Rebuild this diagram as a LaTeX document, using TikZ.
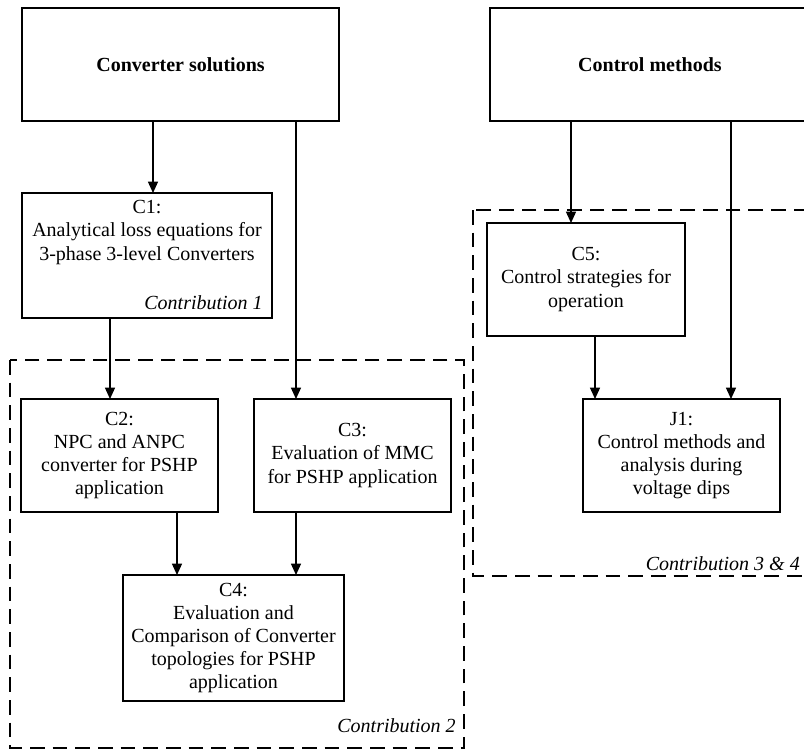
\documentclass[tikz,border=0pt]{standalone}
\usepackage{fontspec}
\setmainfont{Liberation Serif}
\usetikzlibrary{arrows.meta}

\begin{document}
\begin{tikzpicture}[x=0.75pt, y=-0.75pt, >={Triangle[length=8.5pt,width=7.5pt]},
	box/.style={draw, line width=0.8pt, inner sep=0pt, outer sep=0pt, align=center, font=\fontsize{15}{17.3}\selectfont},
	contrib/.style={font=\fontsize{15}{17.3}\selectfont\itshape, inner sep=0pt},
	grpbox/.style={line width=1.5pt, dash pattern=on 11pt off 6pt}]
	\useasboundingbox (0,0) rectangle (804,749);
	\clip (0,0) rectangle (804,749);

	% top level
	\node[box, minimum width=237.75pt, minimum height=84.75pt] (conv) at (180.5,64.5) {\textbf{Converter solutions}};
	\node[box, minimum width=240pt, minimum height=84.75pt] (ctrl) at (650,64.5) {\textbf{Control methods}};

	% contribution 1
	\node[box, minimum width=187.5pt, minimum height=93.75pt] (c1) at (147,255.5) {};
	\node[box, draw=none] (c1text) at (147,232.5) {C1:\\Analytical loss equations for\\3-phase 3-level Converters};
	\node[contrib, anchor=base east] (con1) at (263,309) {Contribution 1};

	% contribution 2
	\draw[grpbox] (10,360) rectangle (464,748);
	\node[box, minimum width=147.75pt, minimum height=84.75pt] (c2) at (119.5,455.5) {C2:\\NPC and ANPC\\converter for PSHP\\application};
	\node[box, minimum width=147.75pt, minimum height=84.75pt] (c3) at (352.5,455.5) {C3:\\Evaluation of MMC\\for PSHP application};
	\node[box, minimum width=165.75pt, minimum height=94.5pt] (c4) at (233.5,638) {C4:\\Evaluation and\\Comparison of Converter\\topologies for PSHP\\application};
	\node[contrib, anchor=base east] (con2) at (456,732) {Contribution 2};

	% contribution 3 & 4
	\draw[grpbox] (473,210) rectangle (830,576);
	\node[box, minimum width=148.5pt, minimum height=84.75pt] (c5) at (586,279.5) {C5:\\Control strategies for\\operation};
	\node[box, minimum width=147.75pt, minimum height=84.75pt] (j1) at (681.5,455.5) {J1:\\Control methods and\\analysis during\\voltage dips};
	\node[contrib, anchor=base east] (con34) at (800,570) {Contribution 3 \& 4};

	% arrows
	\foreach \a/\b/\x in {conv/c1/153, conv/c3/296, c1/c2/110, c2/c4/177, c3/c4/296, ctrl/c5/571, ctrl/j1/731, c5/j1/595}
		\draw[->, line width=1pt] (\a.south -| \x,0) -- (\b.north -| \x,0);
\end{tikzpicture}
\end{document}
